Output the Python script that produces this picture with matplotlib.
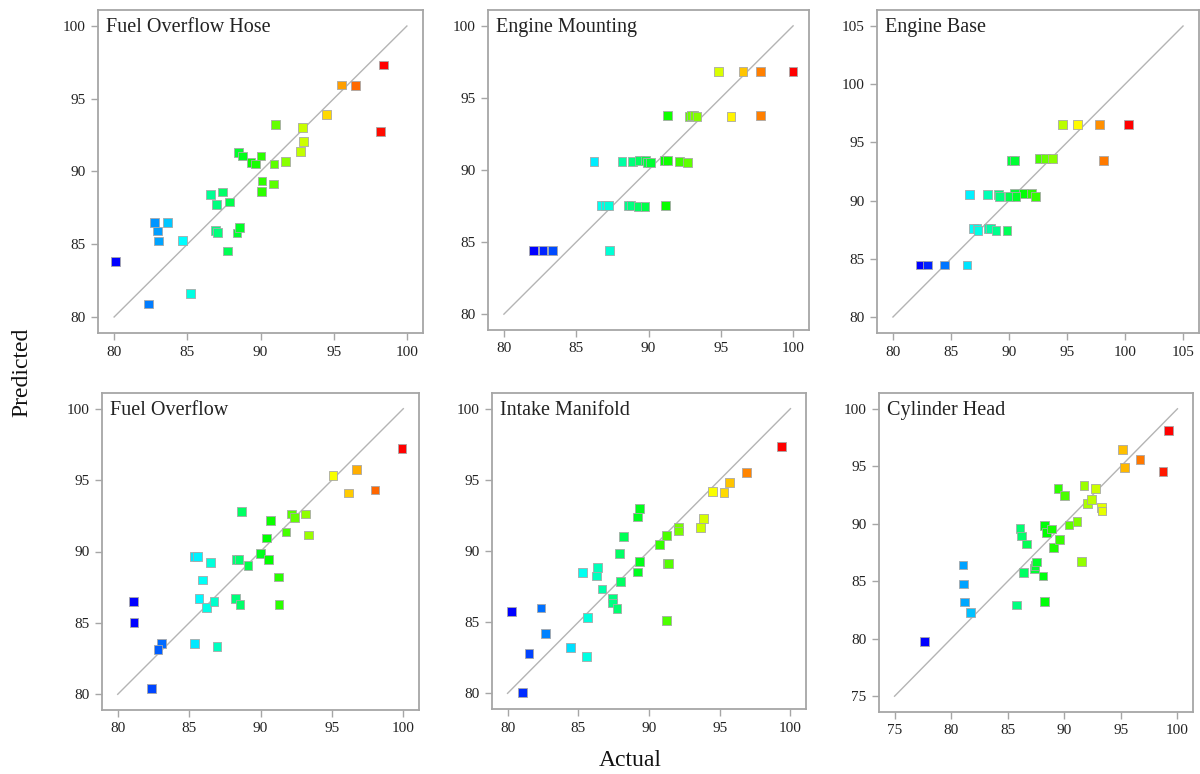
import matplotlib
matplotlib.use("Agg")
import matplotlib.pyplot as plt
import matplotlib.colors as mcolors
import numpy as np

plt.rcParams['font.family'] = ['Liberation Serif', 'DejaVu Serif']

# ---------------- data ----------------
titles = ["Fuel Overflow Hose", "Engine Mounting", "Engine Base",
          "Fuel Overflow", "Intake Manifold", "Cylinder Head"]

hose_actual = [80.1, 82.33, 82.78, 82.94, 83.03, 83.67, 84.65, 85.2, 86.59, 86.98, 87.39, 86.91,
               87.05, 87.89, 87.75, 88.39, 88.55, 88.48, 88.78, 89.35, 89.67, 90.03, 90.1, 90.06,
               90.92, 90.88, 91.04, 91.7, 92.73, 92.86, 92.93, 94.5, 95.55, 96.49, 98.4, 98.2]
hose_pred = [83.83, 80.9, 86.48, 85.91, 85.22, 86.48, 85.25, 81.6, 88.43, 87.72, 88.59, 85.93,
             85.8, 87.9, 84.54, 85.77, 86.16, 91.29, 91.07, 90.61, 90.52, 91.07, 89.35, 88.61,
             90.52, 89.14, 93.22, 90.68, 91.36, 93.01, 92.05, 93.91, 95.94, 95.9, 97.32, 92.74]

mount_actual = [94.84, 96.53, 97.76, 100.0,
                91.31, 92.8, 93.0, 93.15, 93.35, 95.7, 97.76,
                86.23, 88.17, 88.9, 89.39, 89.8, 89.9, 90.15, 91.07, 91.3, 92.12, 92.7,
                86.77, 87.05, 87.21, 88.58, 88.79, 89.27, 89.76, 91.19,
                82.06, 82.7, 83.38, 87.28]
mount_pred = [96.85, 96.85, 96.85, 96.85,
              93.77, 93.72, 93.77, 93.77, 93.72, 93.72, 93.77,
              90.61, 90.61, 90.61, 90.68, 90.68, 90.5, 90.52, 90.68, 90.66, 90.6, 90.52,
              87.51, 87.51, 87.51, 87.55, 87.55, 87.48, 87.48, 87.55,
              84.4, 84.4, 84.4, 84.4]

base_actual = [94.6, 95.89, 97.78, 100.3,
               92.63, 93.17, 93.77, 90.25, 90.45, 98.16,
               86.62, 88.16, 89.11, 90.45, 91.25, 91.97,
               89.17, 90.03, 90.6, 92.26,
               86.96, 87.25, 88.19, 88.4,
               87.33, 88.88, 89.82,
               82.38, 83.0, 84.44, 86.39]
base_pred = [96.51, 96.51, 96.51, 96.51,
             93.6, 93.6, 93.6, 93.42, 93.42, 93.42,
             90.52, 90.52, 90.52, 90.62, 90.62, 90.62,
             90.33, 90.33, 90.33, 90.33,
             87.6, 87.6, 87.6, 87.6,
             87.4, 87.4, 87.4,
             84.47, 84.47, 84.47, 84.47]

overflow_actual = [81.1, 81.14, 83.06, 82.82, 82.38, 85.37, 86.95, 85.39, 85.58, 86.49, 85.95, 85.69,
                   86.21, 86.74, 88.26, 88.56, 88.68, 88.33, 88.49, 89.12, 89.99, 90.55, 90.43, 90.71,
                   91.25, 91.3, 91.79, 92.16, 92.37, 93.16, 93.35, 95.08, 96.17, 96.71, 98.02, 99.91]
overflow_pred = [86.5, 85.05, 83.56, 83.13, 80.4, 83.56, 83.37, 89.66, 89.66, 89.22, 88.0, 86.71,
                 86.08, 86.5, 86.71, 86.27, 92.8, 89.45, 89.45, 89.03, 89.85, 89.43, 90.95, 92.16,
                 88.21, 86.29, 91.37, 92.63, 92.4, 92.63, 91.16, 95.32, 94.1, 95.74, 94.31, 97.24]

intake_actual = [80.26, 81.06, 81.51, 82.36, 82.69, 84.45, 85.3, 85.58, 85.65, 86.34, 86.27, 86.67,
                 87.4, 87.4, 87.73, 87.96, 87.92, 88.2, 89.21, 89.31, 89.35, 89.21, 90.77, 91.21,
                 91.31, 91.4, 91.26, 92.06, 92.11, 93.66, 93.85, 94.51, 95.31, 95.71, 96.91, 99.39]
intake_pred = [85.73, 80.07, 82.8, 85.99, 84.18, 83.22, 88.48, 82.59, 85.31, 88.86, 88.25, 87.33,
               86.7, 86.35, 85.95, 87.85, 89.85, 91.0, 92.39, 93.0, 89.24, 88.53, 90.48, 91.07,
               89.14, 89.1, 85.12, 91.63, 91.4, 91.66, 92.29, 94.2, 94.12, 94.83, 95.51, 97.34]

head_actual = [77.65, 81.05, 81.1, 81.19, 81.74, 85.78, 86.08, 86.22, 86.37, 86.66, 87.35, 87.41,
               87.56, 88.11, 88.28, 88.28, 88.4, 88.87, 89.04, 89.45, 89.59, 90.03, 90.41, 91.13,
               91.54, 91.74, 92.06, 92.41, 92.76, 93.28, 93.34, 95.17, 95.35, 96.69, 98.72, 99.24]
head_pred = [79.75, 86.41, 84.76, 83.2, 82.3, 82.94, 89.6, 88.93, 85.78, 88.24, 86.09, 86.38,
             86.67, 85.46, 83.23, 89.83, 89.25, 89.54, 87.95, 93.05, 88.62, 92.44, 89.89, 90.18,
             86.73, 93.34, 91.74, 92.09, 93.05, 91.43, 91.11, 96.49, 94.9, 95.57, 94.58, 98.09]

axis_ranges = [(80, 100), (80, 100), (80, 105), (80, 100), (80, 100), (75, 100)]

actuals = [hose_actual, mount_actual, base_actual, overflow_actual, intake_actual, head_actual]
preds = [hose_pred, mount_pred, base_pred, overflow_pred, intake_pred, head_pred]

# ---------------- layout ----------------
W, H = 1200, 774
fig = plt.figure(figsize=(W / 100, H / 100), dpi=100)

# pixel boxes: left, right, top, bottom
boxes = [(98, 423, 10, 333), (488, 809, 10, 330), (877, 1199, 10, 333),
         (102, 419, 393, 710), (492, 806, 393, 709), (879, 1193, 393, 712)]

frame_col = "#a6a6a6"

for i in range(6):
    l, r, t, b = boxes[i]
    ax = fig.add_axes([l / W, 1 - b / H, (r - l) / W, (b - t) / H])
    lo, hi = axis_ranges[i]
    pad = (hi - lo) * 0.055
    ax.set_xlim(lo - pad, hi + pad)
    ax.set_ylim(lo - pad, hi + pad)
    x = np.array(actuals[i])
    y = np.array(preds[i])
    frac = (x - x.min()) / (x.max() - x.min())
    hsv = np.stack([(2 / 3) * (1 - frac), np.ones_like(frac), np.ones_like(frac)], axis=1)
    cols = mcolors.hsv_to_rgb(hsv)
    ax.plot([lo, hi], [lo, hi], color="#b4b4b4", lw=1.0, zorder=1)
    ax.scatter(x, y, marker='s', s=40, c=cols, edgecolors="#a8a8a8", linewidths=0.6, zorder=3)
    ticks = np.arange(lo, hi + 0.1, 5)
    ax.set_xticks(ticks)
    ax.set_yticks(ticks)
    ax.set_xticklabels([f"{int(v)}" for v in ticks])
    ax.set_yticklabels([f"{int(v)}" for v in ticks])
    for s in ax.spines.values():
        s.set_color(frame_col)
        s.set_linewidth(1.3)
    ax.tick_params(direction='out', length=5, width=1.0, color=frame_col,
                   labelsize=11, labelcolor="#222222", pad=4)
    ax.text(0.025, 0.975, titles[i], transform=ax.transAxes, ha='left', va='top',
            fontsize=14.5, color="#222222")

fig.text(22 / W, 1 - 372 / H, "Predicted", rotation=90, ha='center', va='center',
         fontsize=17, color="#111111")
fig.text(630 / W, 1 - 760 / H, "Actual", ha='center', va='center',
         fontsize=17, color="#111111")

fig.savefig("out.png", dpi=100)
